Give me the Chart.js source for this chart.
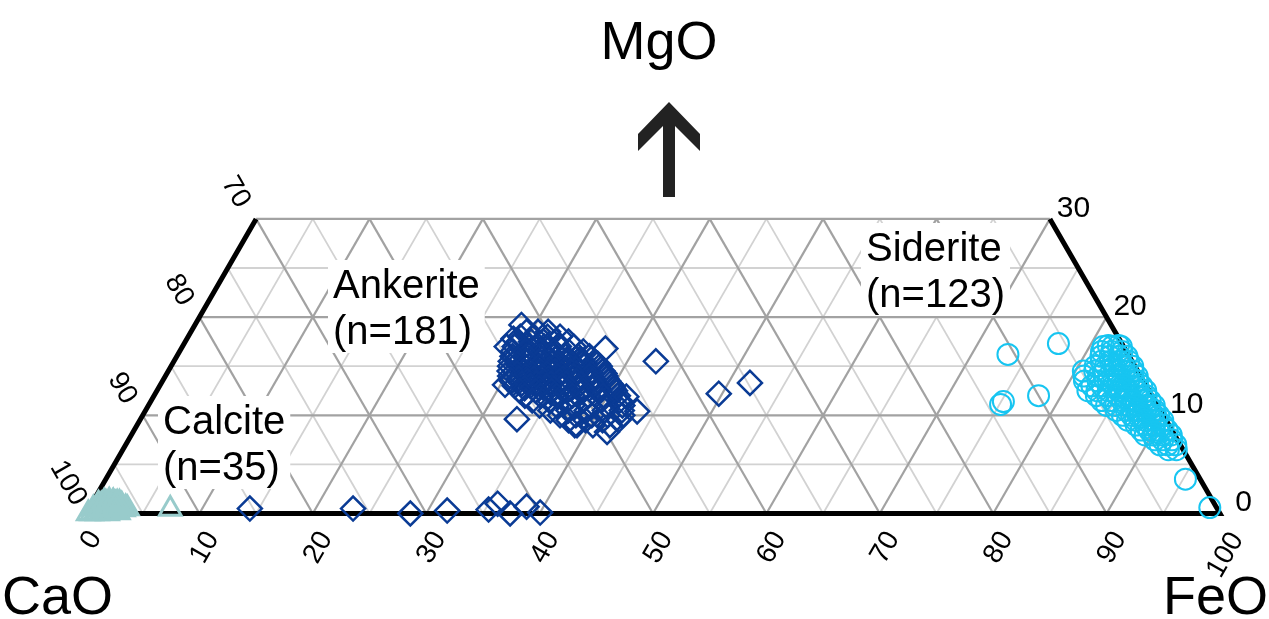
<!DOCTYPE html>
<html><head><meta charset="utf-8">
<script src="https://cdn.jsdelivr.net/npm/chart.js@4.4.1/dist/chart.umd.min.js"></script>
<style>html,body{margin:0;padding:0;background:#fff;overflow:hidden}canvas{display:block}</style>
</head><body>
<canvas id="c" width="1269" height="619"></canvas>
<script>
// ---------------- DATA (ternary wt%, CaO = 100 - FeO - MgO) ----------------
const calciteFeO = [0.2,0.5,0.8,1.0,1.3,1.6,1.9,2.2,2.5,2.8,3.1,3.4, 0.4,0.7,1.0,1.3,1.6,1.9,2.2,2.5,2.8,3.2, 0.6,0.9,1.2,1.5,1.8,2.1,2.4,2.7, 1.0,1.4,1.8,2.2, 7.2];
const calciteMgO = [0,0,0.1,0,0.2,0.1,0,0.2,0.3,0.1,0.4,0.5, 0.5,0.6,0.4,0.7,0.5,0.8,0.6,0.9,0.7,0.6, 1.0,0.9,1.1,1.0,1.2,1.0,1.1,0.9, 1.2,1.3,1.2,1.1, 0.46];

const ankeriteFeO = [
 29.6,30.6,31.5,
 29.3,30.5,31.7,32.8,
 29.4,30.5,31.6,32.7,33.8,
 29.3,30.6,31.9,33.2,34.5,
 29.4,30.6,31.8,33.0,34.3,35.6,
 29.6,30.8,32.0,33.2,34.3,35.4,36.4,
 30.2,31.3,32.4,33.5,34.6,35.7,36.7,
 29.7,31.0,32.2,33.4,34.7,35.9,37.1,
 30.4,31.6,32.8,34.0,35.2,36.4,37.5,
 29.9,31.2,32.5,33.8,35.1,36.4,37.8,
 33.5,35.8,
 30.1,31.4,32.8,34.1,35.5,36.9,38.3,
 30.9,32.2,33.5,34.8,36.1,37.4,38.6,
 30.4,31.8,33.2,34.6,36.0,37.4,38.8,
 31.3,32.6,33.9,35.2,36.5,37.8,39.0,
 30.8,32.2,33.6,35.0,36.5,37.9,39.3,
 31.8,33.1,34.4,35.7,37.0,38.3,39.6,
 31.3,32.7,34.1,35.5,36.9,38.4,39.9,
 32.3,33.6,34.9,36.2,37.5,38.8,40.1,
 32.0,33.4,34.8,36.2,37.6,39.0,40.4,
 32.7,34.1,35.5,36.9,38.3,39.6,40.9,
 33.6,35.1,36.6,38.1,39.7,41.3,
 34.5,36.0,37.4,38.9,40.4,41.8,
 35.7,37.3,38.9,40.5,42.0,
 36.8,38.2,39.6,41.0,42.3,
 37.8,39.3,40.8,42.2,
 38.6,40.2,41.7,
 28.8,37.4,42.5,49.7,51.9,30.4,33.2,43.4,38.8,41.8,41.7,28.8,28.6,
 14.2,23.3,28.6,31.7,35.3,35.8,37.4,38.5,40.0
];
const ankeriteMgO = [
 18.5,18.5,18.5,
 18,18,18,18,
 17.5,17.5,17.5,17.5,17.5,
 17,17,17,17,17,
 16.5,16.5,16.5,16.5,16.5,16.5,
 16,16,16,16,16,16,16,
 15.75,15.75,15.75,15.75,15.75,15.75,15.75,
 15.5,15.5,15.5,15.5,15.5,15.5,15.5,
 15.25,15.25,15.25,15.25,15.25,15.25,15.25,
 15,15,15,15,15,15,15,
 14.75,14.75,
 14.5,14.5,14.5,14.5,14.5,14.5,14.5,
 14.25,14.25,14.25,14.25,14.25,14.25,14.25,
 14,14,14,14,14,14,14,
 13.75,13.75,13.75,13.75,13.75,13.75,13.75,
 13.5,13.5,13.5,13.5,13.5,13.5,13.5,
 13.25,13.25,13.25,13.25,13.25,13.25,13.25,
 13,13,13,13,13,13,13,
 12.75,12.75,12.75,12.75,12.75,12.75,12.75,
 12.5,12.5,12.5,12.5,12.5,12.5,12.5,
 12,12,12,12,12,12,12,
 11.5,11.5,11.5,11.5,11.5,11.5,
 11,11,11,11,11,11,
 10.5,10.5,10.5,10.5,10.5,
 10,10,10,10,10,
 9.5,9.5,9.5,9.5,
 9,9,9,
 19.2,16.8,15.5,12.2,13.3,13.1,9.6,10.4,9.0,8.3,11.9,17.8,17.0,
 0.5,0.5,0.0,0.3,0.4,1.0,0.0,0.7,0.1
];

const sideriteFeO = [
 82.5,81.6,
 82.8,82.0,81.2,
 83.1,82.2,81.3,
 83.8,83.1,82.3,81.5,
 84.2,83.4,82.6,81.8,
 84.8,84.0,83.2,82.4,81.5,
 85.1,84.3,83.5,82.6,81.7,80.7,
 85.7,84.9,84.1,83.2,82.3,81.0,
 85.5,83.8,
 86.0,85.2,84.3,83.4,82.5,81.3,
 86.6,85.8,85.0,84.1,83.1,82.2,
 86.4,84.8,
 87.2,86.4,85.6,84.8,83.9,82.9,82.1,
 87.5,86.7,85.9,85.0,84.1,83.1,
 87.3,85.7,
 88.1,87.3,86.5,85.6,84.7,83.8,
 88.7,87.9,87.1,86.2,85.3,84.5,
 88.4,86.8,
 89.0,88.2,87.4,86.5,85.6,
 89.6,88.8,88.0,87.2,86.4,
 89.5,88.0,
 90.2,89.4,88.6,87.8,87.1,
 90.5,89.7,88.9,88.1,
 91.1,90.3,89.5,88.8,
 90.1,
 91.7,90.9,90.1,89.4,
 92.0,91.2,90.5,
 92.6,91.9,91.2,
 92.9,92.2,
 73.2,77.1,78.0,75.1,75.2,95.2,98.8
];
const sideriteMgO = [
 17.1,17.1,
 17,17,17,
 16.5,16.5,16.5,
 16,16,16,16,
 15.5,15.5,15.5,15.5,
 15,15,15,15,15,
 14.5,14.5,14.5,14.5,14.5,14.5,
 14,14,14,14,14,14,
 13.7,13.7,
 13.5,13.5,13.5,13.5,13.5,13.5,
 13,13,13,13,13,13,
 12.8,12.8,
 12.5,12.5,12.5,12.5,12.5,12.5,12.5,
 12,12,12,12,12,12,
 11.8,11.8,
 11.5,11.5,11.5,11.5,11.5,11.5,
 11,11,11,11,11,11,
 10.8,10.8,
 10.5,10.5,10.5,10.5,10.5,
 10,10,10,10,10,
 9.8,9.8,
 9.5,9.5,9.5,9.5,9.5,
 9,9,9,9,
 8.5,8.5,8.5,8.5,
 8.3,
 8,8,8,8,
 7.5,7.5,7.5,
 7,7,7,
 6.5,6.5,
 16.2,17.3,12.0,11.1,11.4,3.5,0.6
];

const feoTicks = [0,10,20,30,40,50,60,70,80,90,100];
const caoTicks = [100,90,80,70];
const mgoTicks = [0,10,20,30];
const gridValues = [5,10,15,20,25,30,35,40,45,50,55,60,65,70,75,80,85,90,95];
const mgoGrid = [5,10,15,20,25];
const mgoMax = 30;
const mineralNames = ['Calcite','Ankerite','Siderite'];
const mineralCounts = [35,181,123];
const axisTitles = ['MgO','CaO','FeO'];

// ---------------- STYLE ----------------
const FONT = '"Liberation Sans", Arial, Helvetica, sans-serif';
const S3 = Math.sqrt(3) / 2;
const labelPos = [ {left:163, base:434}, {left:333, base:298}, {left:866, base:261} ];
const colors = { calcite:'#98cbcb', ankerite:'#0a3b95', siderite:'#17c5f1', major:'#a2a2a2', minor:'#d2d2d2' };

const toXY = (fe, mg) => fe.map((f, i) => ({ x: f + mg[i] / 2, y: mg[i] * S3 }));

const ternaryPlugin = {
  id: 'ternary',
  beforeDatasetsDraw(chart) {
    const ctx = chart.ctx, xs = chart.scales.x, ys = chart.scales.y;
    const P = (fe, mg) => [xs.getPixelForValue(fe + mg / 2), ys.getPixelForValue(mg * S3)];
    const seg = (a, b, col, w) => { ctx.beginPath(); ctx.moveTo(a[0], a[1]); ctx.lineTo(b[0], b[1]); ctx.strokeStyle = col; ctx.lineWidth = w; ctx.stroke(); };
    ctx.save();
    ctx.lineCap = 'butt';
    for (const major of [false, true]) {
      const col = major ? colors.major : colors.minor, w = major ? 2.2 : 1.8;
      for (const v of gridValues) {
        if ((v % 10 === 0) !== major) continue;
        const mTop = Math.min(mgoMax, 100 - v);
        seg(P(v, 0), P(v, mTop), col, w);                 // constant FeO
        seg(P(100 - v, 0), P(100 - v - mTop, mTop), col, w); // constant CaO
      }
      for (const m of mgoGrid) {
        if ((m % 10 === 0) !== major) continue;
        seg(P(0, m), P(100 - m, m), col, w);
      }
    }
    seg(P(0, mgoMax), P(100 - mgoMax, mgoMax), colors.major, 2.2);
    // black edges
    ctx.beginPath();
    let p = P(0, mgoMax); ctx.moveTo(p[0], p[1]);
    p = P(0, 0); ctx.lineTo(p[0], p[1]);
    p = P(100, 0); ctx.lineTo(p[0], p[1]);
    p = P(100 - mgoMax, mgoMax); ctx.lineTo(p[0], p[1]);
    ctx.strokeStyle = '#000'; ctx.lineWidth = 5; ctx.lineJoin = 'miter'; ctx.stroke();

    // tick labels
    ctx.fillStyle = '#000';
    ctx.textAlign = 'center'; ctx.textBaseline = 'alphabetic';
    const rotText = (txt, cx, cy, ang, size) => {
      ctx.save(); ctx.translate(cx, cy); ctx.rotate(ang);
      ctx.font = size + 'px ' + FONT;
      ctx.fillText(txt, 0, 0.358 * size);
      ctx.restore();
    };
    for (const t of feoTicks) {
      const q = P(t, 0), s = String(t), n = s.length;
      rotText(s, q[0] + 3.5, 531.5 + 7.5 * n, -Math.PI / 3, 28);
    }
    for (const c of caoTicks) {
      const q = P(0, 100 - c), s = String(c), n = s.length;
      rotText(s, q[0] - 18.5 + (n - 2) * 2.5, q[1] - 28 - (n - 2) * 3.5, Math.PI / 3, 28);
    }
    for (const m of mgoTicks) {
      const q = P(100 - m, m);
      rotText(String(m), q[0] + 23.5, q[1] - 13, 0, 30);
    }

    // mineral labels with white boxes
    ctx.textAlign = 'left';
    ctx.font = '40px ' + FONT;
    mineralNames.forEach((nm, i) => {
      const lp = labelPos[i];
      const l2 = '(n=' + mineralCounts[i] + ')';
      const w = Math.max(ctx.measureText(nm).width, ctx.measureText(l2).width);
      ctx.fillStyle = '#fff';
      ctx.fillRect(lp.left - 5, lp.base - 38, w + 10, 93);
      ctx.fillStyle = '#000';
      ctx.fillText(nm, lp.left, lp.base);
      ctx.fillText(l2, lp.left, lp.base + 46);
    });
    ctx.restore();
  },
  afterDraw(chart) {
    const ctx = chart.ctx;
    ctx.save();
    ctx.fillStyle = '#000';
    ctx.font = '54px ' + FONT;
    ctx.textBaseline = 'alphabetic';
    ctx.textAlign = 'center'; ctx.fillText(axisTitles[0], 659, 59);
    ctx.textAlign = 'left'; ctx.fillText(axisTitles[1], 2, 614);
    ctx.textAlign = 'right'; ctx.fillText(axisTitles[2], 1268, 614);
    // arrow
    ctx.fillStyle = '#222';
    ctx.beginPath();
    ctx.moveTo(669, 102); ctx.lineTo(700, 134); ctx.lineTo(700, 151); ctx.lineTo(675, 126);
    ctx.lineTo(675, 197); ctx.lineTo(663, 197); ctx.lineTo(663, 126); ctx.lineTo(638, 151);
    ctx.lineTo(638, 134); ctx.closePath(); ctx.fill();
    ctx.restore();
  }
};

new Chart(document.getElementById('c'), {
  type: 'scatter',
  data: {
    datasets: [
      { label: mineralNames[0], data: toXY(calciteFeO, calciteMgO), pointStyle: 'triangle', pointRadius: 12.5, borderColor: colors.calcite, backgroundColor: 'rgba(0,0,0,0)', borderWidth: 3 },
      { label: mineralNames[1], data: toXY(ankeriteFeO, ankeriteMgO), pointStyle: 'rectRot', pointRadius: 12, borderColor: colors.ankerite, backgroundColor: 'rgba(0,0,0,0)', borderWidth: 2.5 },
      { label: mineralNames[2], data: toXY(sideriteFeO, sideriteMgO), pointStyle: 'circle', pointRadius: 10.5, borderColor: colors.siderite, backgroundColor: 'rgba(0,0,0,0)', borderWidth: 2 }
    ]
  },
  options: {
    responsive: false, animation: false, devicePixelRatio: 1,
    layout: { padding: 0, autoPadding: false },
    plugins: { legend: { display: false }, tooltip: { enabled: false } },
    scales: {
      x: { type: 'linear', display: false, min: -86 / 11.34, max: (1269 - 86) / 11.34 },
      y: { type: 'linear', display: false, min: -105.5 / 11.34, max: 513.5 / 11.34 }
    }
  },
  plugins: [ternaryPlugin]
});
</script>
</body></html>
